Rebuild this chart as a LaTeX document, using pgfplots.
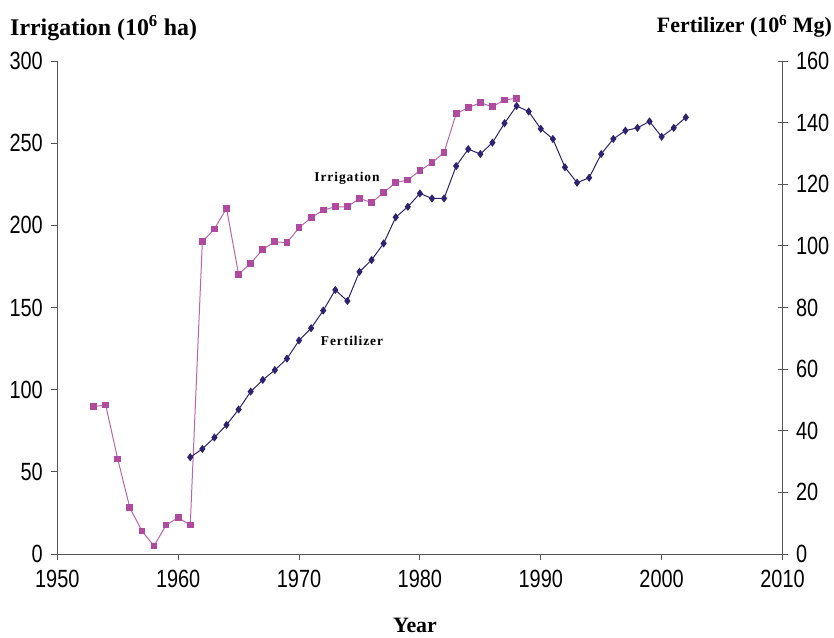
\documentclass[border=0pt]{standalone}
\usepackage{fontspec}
\setmainfont{Liberation Serif}
\newfontfamily\tickfont[FakeStretch=0.8]{Liberation Sans}
\newfontfamily\lblfont[LetterSpace=7]{Liberation Serif}
\usepackage{pgfplots}
\pgfplotsset{compat=1.18}
\definecolor{irr}{HTML}{B04A9E}
\definecolor{fert}{HTML}{2E2270}
\definecolor{axgray}{HTML}{555555}
\begin{document}
\begin{tikzpicture}
\begin{axis}[
  at={(57.3bp,84bp)}, anchor=south west,
  width=725.2bp, height=493bp, scale only axis,
  xmin=1950, xmax=2010, ymin=0, ymax=300,
  axis x line*=bottom, axis y line*=left,
  axis line style={axgray, line width=0.9bp, -},
  xtick={1950,1960,...,2010}, ytick={0,50,...,300},
  tick style={axgray, line width=0.9bp},
  major tick length=6bp,
  tick align=outside,
  /pgf/number format/assume math mode=true,
  /pgf/number format/1000 sep={},
  ticklabel style={font=\tickfont\fontsize{25}{25}\selectfont, text=black},
  xticklabel style={yshift=-7bp},
  yticklabel style={xshift=-5bp},
  clip=false,
]
\addplot[color=irr!85!white, line width=1bp, mark=square*, mark size=2.9bp,
  mark options={fill=irr, draw=irr}] coordinates {
(1953,89.6)(1954,90.7)(1955,57.8)(1956,28.2)(1957,14.0)(1958,4.9)(1959,17.6)
(1960,22.1)(1961,17.6)(1962,190.0)(1963,197.8)(1964,210.4)(1965,170.2)
(1966,176.9)(1967,185.4)(1968,190.0)(1969,189.4)(1970,198.6)(1971,204.6)
(1972,209.3)(1973,211.3)(1974,211.3)(1975,216.4)(1976,213.8)(1977,219.9)
(1978,226.0)(1979,227.6)(1980,233.3)(1981,238.1)(1982,244.4)(1983,267.9)
(1984,271.6)(1985,274.6)(1986,272.2)(1987,276.3)(1988,277.3)
};
\end{axis}
\begin{axis}[
  at={(57.3bp,84bp)}, anchor=south west,
  width=725.2bp, height=493bp, scale only axis,
  xmin=1950, xmax=2010, ymin=0, ymax=160,
  axis x line=none, axis y line*=right,
  axis line style={axgray, line width=0.9bp, -},
  ytick={0,20,...,160},
  tick style={axgray, line width=0.9bp},
  major tick length=10bp,
  tick align=center,
  /pgf/number format/assume math mode=true,
  ticklabel style={font=\tickfont\fontsize{25}{25}\selectfont, text=black},
  yticklabel style={xshift=5bp},
  clip=false,
]
\addplot[color=fert, line width=1bp, mark=diamond*, mark size=3.3bp,
  mark options={fill=fert, draw=fert}] coordinates {
(1961,31.4)(1962,34.1)(1963,37.8)(1964,41.9)(1965,46.9)(1966,52.7)(1967,56.5)
(1968,59.7)(1969,63.4)(1970,69.3)(1971,73.3)(1972,79.0)(1973,85.7)(1974,82.1)
(1975,91.6)(1976,95.4)(1977,100.8)(1978,109.3)(1979,112.7)(1980,117.0)
(1981,115.4)(1982,115.4)(1983,125.9)(1984,131.4)(1985,129.8)(1986,133.5)
(1987,139.8)(1988,145.4)(1989,143.6)(1990,138.0)(1991,134.7)(1992,125.5)
(1993,120.5)(1994,122.1)(1995,129.8)(1996,134.7)(1997,137.4)(1998,138.3)
(1999,140.4)(2000,135.4)(2001,138.3)(2002,141.7)
};
\end{axis}
\node[anchor=base west, inner sep=0pt, font=\bfseries\fontsize{24}{24}\selectfont] at (10bp,602bp) {Irrigation (10\textsuperscript{6} ha)};
\node[anchor=base east, inner sep=0pt, font=\bfseries\fontsize{22}{22}\selectfont] at (832bp,605bp) {Fertilizer (10\textsuperscript{6} Mg)};
\node[anchor=base, inner sep=0pt, font=\bfseries\fontsize{22}{22}\selectfont] at (415bp,6bp) {Year};
\node[anchor=base, inner sep=0pt, font=\lblfont\bfseries\fontsize{13.5}{13.5}\selectfont] at (347bp,456bp) {Irrigation};
\node[anchor=base, inner sep=0pt, font=\lblfont\bfseries\fontsize{13.5}{13.5}\selectfont] at (352bp,292bp) {Fertilizer};
\pgfresetboundingbox
\path (0,0) rectangle (834bp,638bp);
\end{tikzpicture}
\end{document}
